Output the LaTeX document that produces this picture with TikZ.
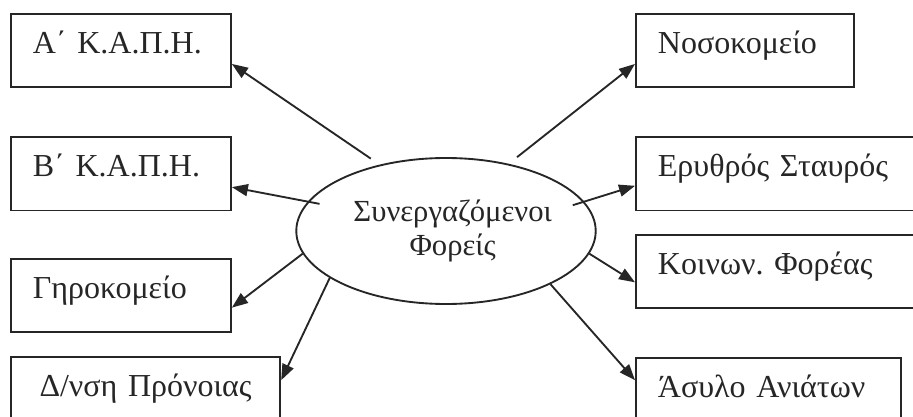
\documentclass[tikz,border=0pt]{standalone}
\usepackage{fontspec}
\setmainfont{Liberation Serif}
\usetikzlibrary{positioning}
\usetikzlibrary{shapes.geometric}
\usetikzlibrary{arrows.meta}
\frenchspacing

\begin{document}
\begin{tikzpicture}[every node/.style={draw=black!85, text=black!85, line width=1.4pt, font=\fontsize{24}{25}\selectfont},
  foreas/.style={minimum height=55pt, align=left, inner xsep=16.5pt, text height=0.7em, text depth=0.28em},
  belos/.style={draw=black!85, line width=1.4pt, -{Triangle[length=12pt,width=9pt]}}]
  \useasboundingbox (0,0) rectangle (684.75pt,-312.75pt);
  \node[shape=ellipse, minimum width=216pt, minimum height=109.5pt, align=center, inner sep=0pt,%
    font=\fontsize{23}{25}\selectfont]
    (foreis) at (334.5pt,-173.25pt) {\hspace*{10pt}Συνεργαζόμενοι\\\hspace*{10pt}Φορείς};
  % left column
  \begin{scope}[every node/.append style={foreas, text width=132pt}]
    \node[anchor=north west] (akaph) at (7.5pt,-9.75pt) {Α΄ Κ.Α.Π.Η.};
    \node[below=36pt of akaph] (bkaph) {Β΄ Κ.Α.Π.Η.};
    \node[below=35pt of bkaph] (girok) {Γηροκομείο};
    \node[below=17pt of girok.south west, anchor=north west,%
      text width=169pt, align=center] (pronoia) {Δ/νση Πρόνοιας};
  \end{scope}
  % right column
  \begin{scope}[every node/.append style={foreas, text width=181pt}]
    \node[anchor=north west, text width=130.5pt] (nosok) at (476.25pt,-9.75pt) {Νοσοκομείο};
    \node[below=36pt of nosok.south west, anchor=north west] (erythros)
      {Ερυθρός Σταυρός};
    \node[below=17pt of erythros.south west, anchor=north west] (koinon)
      {Κοινων. Φορέας};
    \node[below=36pt of koinon.south west, anchor=north west, text width=166pt] (asylo)
      {Άσυλο Ανιάτων};
  \end{scope}
  \draw[belos, shorten <=8pt] (foreis.135) -- ([yshift=-10pt]akaph.east);
  \draw[belos, shorten <=-9pt] (foreis.168) -- ([yshift=-10pt]bkaph.east);
  \draw[belos] (foreis.189) -- ([yshift=-9pt]girok.east);
  \draw[belos] (foreis.202) -- ([yshift=10pt]pronoia.east);
  \draw[belos, shorten <=8pt] (foreis.47) -- ([yshift=-10pt]nosok.west);
  \draw[belos, shorten <=-9pt] (foreis.12) -- ([yshift=-9pt]erythros.west);
  \draw[belos] (foreis.-9) -- ([yshift=-8pt]koinon.west);
  \draw[belos] (foreis.-27) -- ([yshift=11pt]asylo.west);
\end{tikzpicture}
\end{document}
